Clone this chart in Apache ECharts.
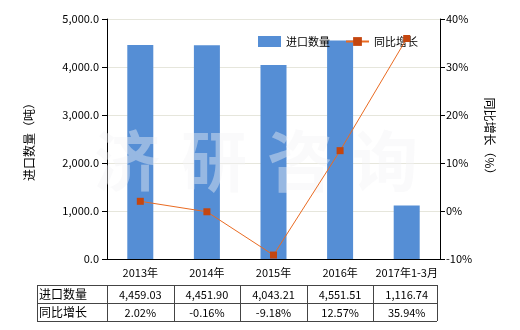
<!DOCTYPE html>
<html><head><meta charset="utf-8">
<script src="https://cdn.jsdelivr.net/npm/echarts@6/dist/echarts.min.js"></script>
<style>html,body{margin:0;padding:0;background:#fff}#c{width:520px;height:330px}</style>
</head><body><div id="c"></div>
<script>
var categories = ['2013年','2014年','2015年','2016年','2017年1-3月'];
var importQty = [4459.03, 4451.90, 4043.21, 4551.51, 1116.74];
var yoyGrowth = [2.02, -0.16, -9.18, 12.57, 35.94];
var leftTicks = {min:0, max:5000, interval:1000};
var rightTicks = {min:-10, max:40, interval:10};
var seriesNames = ['进口数量','同比增长'];

var FONT = '"Noto Sans CJK SC", "Noto Sans", sans-serif';
var G = {left:107, right:80, top:19, bottom:71};
var W = 520, H = 330;
var plotL = G.left, plotR = W - G.right, catW = (plotR - plotL) / categories.length;

function fmtNum(v){ return v.toLocaleString('en-US',{minimumFractionDigits:2,maximumFractionDigits:2}); }

var graphics = [];
// watermark
var wm = ['济','研','咨','询'];
var wmX = [127, 214, 300, 385];
wm.forEach(function(ch,i){
  graphics.push({type:'text', left:wmX[i]-33, top:128, z:3, silent:true,
    style:{text:ch, font:'bold 66px '+FONT, fill:'rgba(242,243,246,0.42)'}});
});
// table
var tL = 37, tR = 437, tT = 285, tM = 303, tB = 321;
var lineStyle = {stroke:'#444', lineWidth:1};
[tT, tM, tB].forEach(function(y){
  graphics.push({type:'line', shape:{x1:tL,y1:y+0.5,x2:tR,y2:y+0.5}, style:lineStyle});
});
var vx = [tL, plotL];
for (var i=1;i<=categories.length;i++) vx.push(Math.min(plotL + catW*i, tR));
vx.forEach(function(x){
  graphics.push({type:'line', shape:{x1:Math.round(x)+0.5,y1:tT,x2:Math.round(x)+0.5,y2:tB}, style:lineStyle});
});
var rows = [[seriesNames[0], importQty.map(fmtNum)], [seriesNames[1], yoyGrowth.map(function(v){return v.toFixed(2)+'%';})]];
rows.forEach(function(r,ri){
  var yc = ri===0 ? (tT+tM)/2 : (tM+tB)/2;
  graphics.push({type:'text', x:tL+2, y:yc, style:{text:r[0], font:'12px '+FONT, fill:'#000', textVerticalAlign:'middle', verticalAlign:'middle'}});
  r[1].forEach(function(t,ci){
    graphics.push({type:'text', x:plotL+catW*(ci+0.5), y:yc+1, style:{text:t, font:'11px '+FONT, fill:'#000', textAlign:'center', align:'center', textVerticalAlign:'middle', verticalAlign:'middle'}});
  });
});

var chart = echarts.init(document.getElementById('c'), null, {renderer:'canvas'});
chart.setOption({
  backgroundColor:'#fff',
  animation:false,
  textStyle:{fontFamily:FONT},
  grid:{left:G.left, right:G.right, top:G.top, bottom:G.bottom, containLabel:false},
  legend:{left:253, top:31, itemWidth:23, itemHeight:11, itemGap:15,
    textStyle:{fontSize:11, color:'#000', fontFamily:FONT},
    data:[{name:seriesNames[0], icon:'rect'}, {name:seriesNames[1]}]},
  xAxis:{type:'category', data:categories,
    axisLine:{lineStyle:{color:'#000'}},
    axisTick:{alignWithLabel:true, length:5, lineStyle:{color:'#000'}},
    axisLabel:{color:'#000', fontSize:11, margin:8, interval:0}},
  yAxis:[
    {type:'value', min:leftTicks.min, max:leftTicks.max, interval:leftTicks.interval,
     name:'进口数量（吨）', nameLocation:'middle', nameGap:72, nameRotate:90,
     nameTextStyle:{fontSize:12, color:'#000', fontFamily:FONT},
     axisLine:{show:true, lineStyle:{color:'#000'}},
     axisTick:{show:true, length:5, lineStyle:{color:'#000'}},
     axisLabel:{color:'#000', fontSize:11, margin:8, formatter:function(v){return v.toLocaleString('en-US',{minimumFractionDigits:1,maximumFractionDigits:1});}},
     splitLine:{lineStyle:{color:'#e6e6dc'}}},
    {type:'value', min:rightTicks.min, max:rightTicks.max, interval:rightTicks.interval, position:'right',
     name:'同比增长（%）', nameLocation:'middle', nameGap:44, nameRotate:-90,
     nameTextStyle:{fontSize:12, color:'#000', fontFamily:FONT},
     axisLine:{show:true, lineStyle:{color:'#000'}},
     axisTick:{show:true, length:5, lineStyle:{color:'#000'}},
     axisLabel:{color:'#000', fontSize:11, margin:6, formatter:'{value}%'},
     splitLine:{show:false}}
  ],
  series:[
    {name:seriesNames[0], type:'bar', data:importQty, barWidth:26, z:2,
     itemStyle:{color:'#558ed5'}},
    {name:seriesNames[1], type:'line', yAxisIndex:1, data:yoyGrowth, z:10,
     symbol:'rect', symbolSize:7,
     lineStyle:{color:'#ea6b22', width:1},
     itemStyle:{color:'#c4460f'}}
  ],
  graphic:graphics
});
</script></body></html>
